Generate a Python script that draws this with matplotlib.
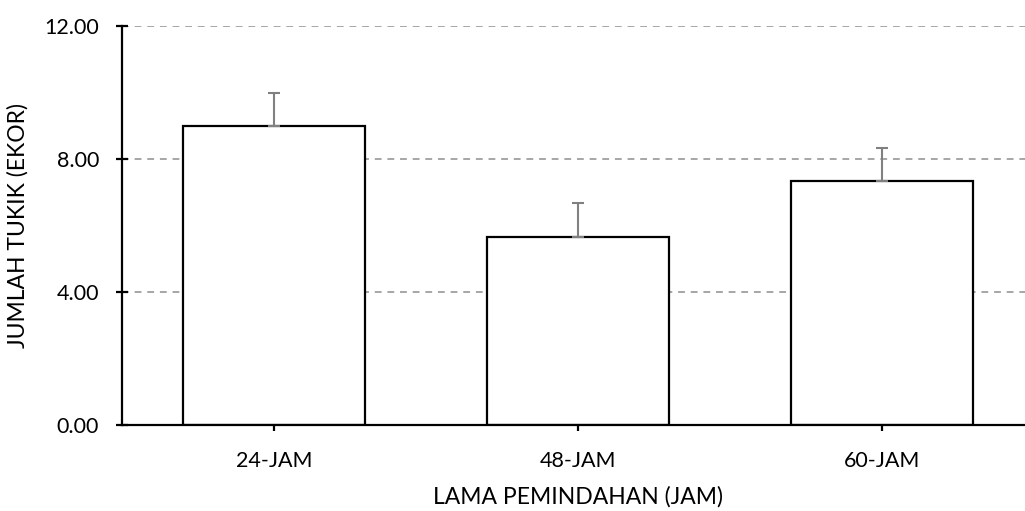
import matplotlib.pyplot as plt
from matplotlib.ticker import FormatStrFormatter

# data
categories = ["24-JAM", "48-JAM", "60-JAM"]
means = [9.00, 5.67, 7.33]
errors = [1.00, 1.00, 1.00]
yticks = [0, 4, 8, 12]

plt.rcParams["font.family"] = ["Lato", "DejaVu Sans"]

fig = plt.figure(figsize=(10.25, 5.11), dpi=100)
ax = fig.add_axes([0.119, 0.168, 0.89, 0.781])

x = range(len(categories))
ax.bar(x, means, width=0.6, color="white", edgecolor="black", linewidth=1.6, zorder=3)
ax.errorbar(x, means, yerr=[[0] * len(errors), errors], fmt="none",
            ecolor="#808080", elinewidth=1.5, capsize=4.5, capthick=1.5, zorder=4)

ax.set_xlim(-0.5, 2.5)
ax.set_ylim(0, 12)
ax.set_yticks(yticks)
ax.yaxis.set_major_formatter(FormatStrFormatter("%.2f"))
ax.set_xticks(list(x))
ax.set_xticklabels(categories)

ax.yaxis.grid(True, linestyle=(0, (3.5, 3.0)), color="#A6A6A6", linewidth=1.4, zorder=0)
ax.set_axisbelow(True)

for side in ["top", "right"]:
    ax.spines[side].set_visible(False)
for side in ["left", "bottom"]:
    ax.spines[side].set_linewidth(1.6)
ax.spines["bottom"].set_zorder(5)

ax.tick_params(axis="y", direction="inout", length=9, width=1.6, labelsize=15.5, pad=12)
ax.tick_params(axis="x", direction="inout", length=9, width=1.6, labelsize=15.5, pad=14)

ax.set_ylabel("JUMLAH TUKIK (EKOR)", fontsize=16.5, labelpad=11)
ax.set_xlabel("LAMA PEMINDAHAN (JAM)", fontsize=16.5, labelpad=11)

fig.savefig("out.png", dpi=100)
